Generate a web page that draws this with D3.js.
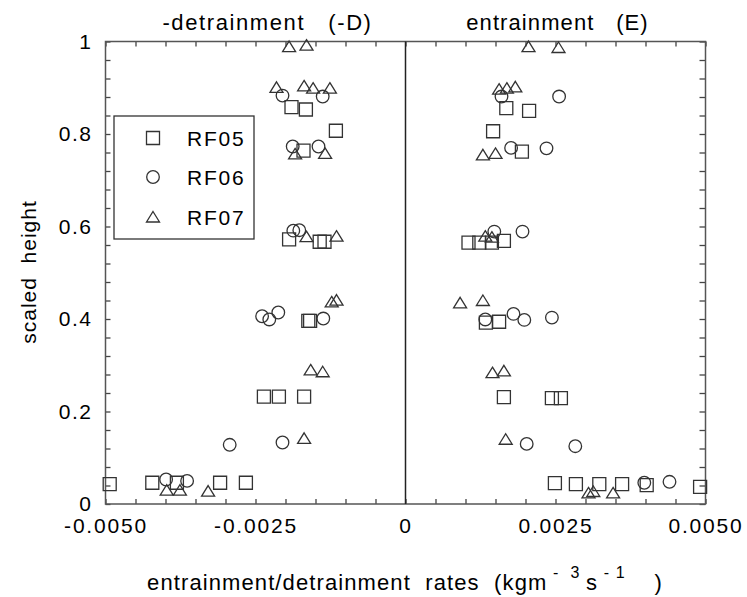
<!DOCTYPE html>
<html><head><meta charset="utf-8">
<script src="https://cdn.jsdelivr.net/npm/d3@7"></script>
<style>
html,body{margin:0;padding:0;background:#fff;}
svg text{font-family:"Liberation Sans",Arial,Helvetica,sans-serif;fill:#000;}
</style></head><body>
<svg id="chart" width="747" height="597"></svg>
<script>
// ---- data (x: rate in kg m^-3 s^-1, y: scaled height) ----
const seriesNames = ["RF05", "RF06", "RF07"];
const rf05 = [
  [-0.00190,0.858],[-0.00166,0.853],[-0.00116,0.807],[-0.00170,0.764],
  [-0.00194,0.572],[-0.00143,0.567],[-0.00135,0.567],[-0.00162,0.396],[-0.00159,0.396],
  [-0.00236,0.232],[-0.00211,0.232],[-0.00169,0.232],
  [-0.00493,0.043],[-0.00422,0.046],[-0.00381,0.046],[-0.00309,0.046],[-0.00266,0.046],
  [0.00168,0.856],[0.00206,0.850],[0.00146,0.806],[0.00194,0.762],
  [0.00105,0.565],[0.00123,0.565],[0.00144,0.565],[0.00164,0.569],
  [0.00134,0.392],[0.00156,0.394],[0.00164,0.231],[0.00244,0.229],[0.00259,0.229],
  [0.00249,0.045],[0.00284,0.043],[0.00323,0.043],[0.00361,0.043],[0.00402,0.041],[0.00491,0.037]
];
const rf06 = [
  [-0.00205,0.883],[-0.00138,0.881],[-0.00188,0.773],[-0.00145,0.773],
  [-0.00187,0.591],[-0.00177,0.592],[-0.00239,0.406],[-0.00227,0.399],[-0.00212,0.414],[-0.00137,0.401],
  [-0.00293,0.128],[-0.00205,0.133],[-0.00399,0.053],[-0.00364,0.050],
  [0.00160,0.881],[0.00256,0.881],[0.00176,0.770],[0.00235,0.769],
  [0.00148,0.589],[0.00195,0.589],[0.00133,0.399],[0.00180,0.411],[0.00198,0.398],[0.00244,0.403],
  [0.00202,0.130],[0.00283,0.125],[0.00398,0.046],[0.00440,0.048]
];
const rf07 = [
  [-0.00194,0.989],[-0.00165,0.992],[-0.00215,0.901],[-0.00169,0.904],[-0.00154,0.899],[-0.00126,0.899],
  [-0.00184,0.757],[-0.00134,0.758],[-0.00165,0.578],[-0.00115,0.579],
  [-0.00123,0.437],[-0.00115,0.441],[-0.00158,0.290],[-0.00138,0.286],[-0.00169,0.142],
  [-0.00398,0.030],[-0.00376,0.030],[-0.00329,0.028],
  [0.00205,0.989],[0.00255,0.987],[0.00156,0.897],[0.00169,0.899],[0.00183,0.902],
  [0.00129,0.755],[0.00150,0.758],[0.00133,0.579],[0.00144,0.577],
  [0.00091,0.435],[0.00129,0.440],[0.00145,0.284],[0.00164,0.288],[0.00167,0.140],
  [0.00305,0.024],[0.00313,0.027],[0.00346,0.024]
];
const xTickLabels = ["-0.0050","-0.0025","0","0.0025","0.0050"];
const xTickValues = [-0.005,-0.0025,0,0.0025,0.005];
const yTickLabels = ["0","0.2","0.4","0.6","0.8","1"];
const yTickValues = [0,0.2,0.4,0.6,0.8,1];
const panelTitles = ["-detrainment   (-D)", "entrainment   (E)"];
const panelTitleX = [-0.0025, 0.0025];

// ---- layout ----
const L = 105.5, R = 705.5, T = 41.5, B = 504;
const svg = d3.select("#chart");
const x = d3.scaleLinear().domain([-0.005, 0.005]).range([L, R]);
const y = d3.scaleLinear().domain([0, 1]).range([B, T]);
const axisColor = "#444";

const xMinor = d3.range(-0.005, 0.00501, 0.0005);
const yMinor = d3.range(0, 1.0001, 0.04);

function styleAxis(g){
  g.select(".domain").remove();
  g.selectAll(".tick line").attr("stroke", axisColor).attr("stroke-width", 1.3);
}
// minor ticks (inward) on all four sides
svg.append("g").attr("transform",`translate(0,${B})`)
  .call(d3.axisBottom(x).tickValues(xMinor).tickSize(-5).tickFormat("")).call(styleAxis);
svg.append("g").attr("transform",`translate(0,${T})`)
  .call(d3.axisTop(x).tickValues(xMinor).tickSize(-5).tickFormat("")).call(styleAxis);
svg.append("g").attr("transform",`translate(${L},0)`)
  .call(d3.axisLeft(y).tickValues(yMinor).tickSize(-5).tickFormat("")).call(styleAxis);
svg.append("g").attr("transform",`translate(${R},0)`)
  .call(d3.axisRight(y).tickValues(yMinor).tickSize(-6).tickFormat("")).call(styleAxis);

// labelled axes
const xLab = svg.append("g").attr("transform",`translate(0,${B})`)
  .call(d3.axisBottom(x).tickValues(xTickValues).tickSize(0).tickPadding(14)
    .tickFormat((d,i)=>xTickLabels[i]));
xLab.select(".domain").remove();
xLab.selectAll("text").attr("font-size",21).attr("letter-spacing","1.8px")
  .attr("font-family",'"Liberation Sans",Arial,sans-serif').attr("fill","#000");

const yLab = svg.append("g").attr("transform",`translate(${L},0)`)
  .call(d3.axisLeft(y).tickValues(yTickValues).tickSize(0).tickPadding(13)
    .tickFormat((d,i)=>yTickLabels[i]));
yLab.select(".domain").remove();
yLab.selectAll("text").attr("font-size",21).attr("letter-spacing","1.5px")
  .attr("font-family",'"Liberation Sans",Arial,sans-serif').attr("fill","#000");

// frame
svg.append("rect").attr("x",L).attr("y",T).attr("width",R-L).attr("height",B-T)
  .attr("fill","none").attr("stroke","#555").attr("stroke-width",1.5);
// zero line
svg.append("line").attr("x1",x(0)).attr("x2",x(0)).attr("y1",T).attr("y2",B)
  .attr("stroke","#222").attr("stroke-width",1.5);

// panel titles
svg.selectAll("text.ptitle").data(panelTitles).enter().append("text")
  .attr("class","ptitle").attr("x",(d,i)=>x(panelTitleX[i])+ (i===0?12:2)).attr("y",30)
  .attr("text-anchor","middle").attr("font-size",22).attr("letter-spacing",(d,i)=>i===0?"1.6px":"1.1px")
  .style("white-space","pre").text(d=>d);

// axis titles
svg.append("text").attr("transform","translate(36,272) rotate(-90)")
  .attr("text-anchor","middle").attr("font-size",21).attr("letter-spacing","1px")
  .style("white-space","pre").text("scaled  height");
const xt = svg.append("text").attr("x",405).attr("y",590).attr("text-anchor","middle")
  .attr("font-size",22).attr("letter-spacing","1.1px").style("white-space","pre");
xt.append("tspan").text("entrainment/detrainment  rates  (kgm");
xt.append("tspan").attr("dy",-12).attr("font-size",16).text(" -  3 ");
xt.append("tspan").attr("dy",12).text("s");
xt.append("tspan").attr("dy",-12).attr("font-size",16).text(" - 1");
xt.append("tspan").attr("dy",12).text("    )");

// marker shapes
const shapes = {
  square: "M-6.5,-6.5h13v13h-13z",
  circle: "",
  triangle: "M0,-5.5L6.5,5L-6.5,5Z"
};
const circ = d3.path(); circ.arc(0,0,6.3,0,2*Math.PI); circ.closePath();
shapes.circle = circ.toString();
const shapeOf = ["square","circle","triangle"];
const allSeries = [rf05, rf06, rf07];
const markColor = "#333";

allSeries.forEach((data, si) => {
  svg.append("g").selectAll("path").data(data).enter().append("path")
    .attr("transform", d => `translate(${x(d[0])},${y(d[1])})`)
    .attr("d", shapes[shapeOf[si]])
    .attr("fill","none").attr("stroke",markColor).attr("stroke-width",1.3);
});

// legend
const lg = svg.append("g");
lg.append("rect").attr("x",114).attr("y",116).attr("width",140).attr("height",123)
  .attr("fill","#fff").attr("stroke","#333").attr("stroke-width",1.3);
const legY = [138, 177, 217];
seriesNames.forEach((name, i) => {
  lg.append("path").attr("transform",`translate(153,${legY[i]})`)
    .attr("d", shapes[shapeOf[i]]).attr("fill","none").attr("stroke",markColor).attr("stroke-width",1.3);
  lg.append("text").attr("x",187).attr("y",legY[i]+7.5).attr("font-size",21)
    .attr("letter-spacing","1.8px").text(name);
});
</script>
</body></html>
